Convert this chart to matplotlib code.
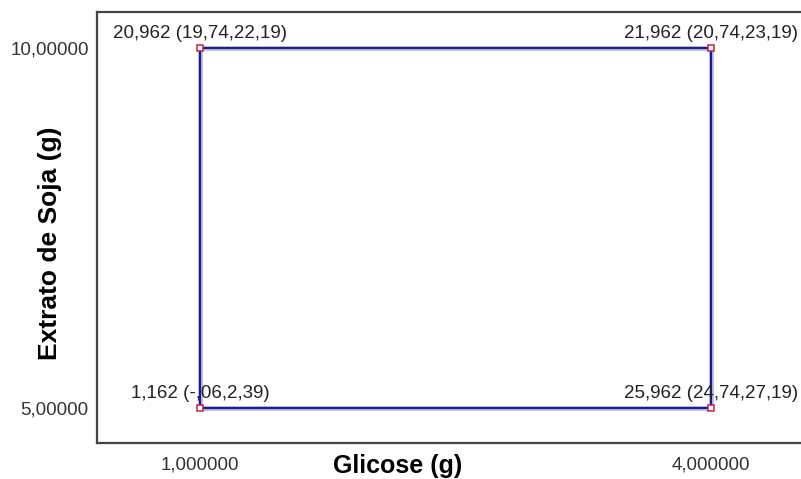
import matplotlib.pyplot as plt

plt.rcParams['font.family'] = ['Liberation Sans', 'DejaVu Sans']

# corner runs of the design: glicose (g) x extrato de soja (g)
glicose = [1.0, 1.0, 4.0, 4.0, 1.0]
soja = [5.0, 10.0, 10.0, 5.0, 5.0]
rotulos = ["1,162 (-,06,2,39)", "20,962 (19,74,22,19)",
           "21,962 (20,74,23,19)", "25,962 (24,74,27,19)"]
xticks = [1.0, 4.0]
xticklabels = ["1,000000", "4,000000"]
yticks = [5.0, 10.0]
yticklabels = ["5,00000", "10,00000"]

fig = plt.figure(figsize=(8.01, 4.79), dpi=100)
ax = fig.add_axes([97 / 801, 36 / 479, 1 - 97 / 801, 431 / 479])
ax.set_xlim(1 - 103 / 170.33, 1 - 103 / 170.33 + 704 / 170.33)
ax.set_ylim(5 - 35 / 72, 5 - 35 / 72 + 431 / 72)

# soft halo under the line
ax.plot(glicose, soja, color='#b4b4ee', lw=3.4, solid_capstyle='butt', zorder=2)
ax.plot(glicose, soja, color='#1c1c8c', lw=1.5, zorder=3)
ax.plot(glicose[:-1], soja[:-1], ls='none', marker='s', ms=4,
        mfc='white', mec='#c0204a', mew=1.1, zorder=4)

for x, y, t in zip(glicose[:-1], soja[:-1], rotulos):
    ax.annotate(t, (x, y), xytext=(0, 4), textcoords='offset points',
                ha='center', va='bottom', fontsize=13.5, color='#222222', zorder=5)

ax.set_xticks(xticks, xticklabels)
ax.set_yticks(yticks, yticklabels)
ax.tick_params(length=0, labelsize=13.5, labelcolor='#333333')
ax.tick_params(axis='y', pad=6)
ax.tick_params(axis='x', pad=10)

for side in ('left', 'top', 'bottom'):
    ax.spines[side].set_color('#444444')
    ax.spines[side].set_linewidth(1.6)
ax.spines['right'].set_visible(False)

ax.set_xlabel('Glicose (g)', fontsize=18, fontweight='bold', va='bottom')
ax.xaxis.set_label_coords((398 - 97) / 704, -35 / 431)
ax.set_ylabel('Extrato de Soja (g)', fontsize=19, fontweight='bold', va='center')
ax.yaxis.set_label_coords(-47 / 704, (443 - 243) / 431)

fig.savefig('out.png', dpi=100)
